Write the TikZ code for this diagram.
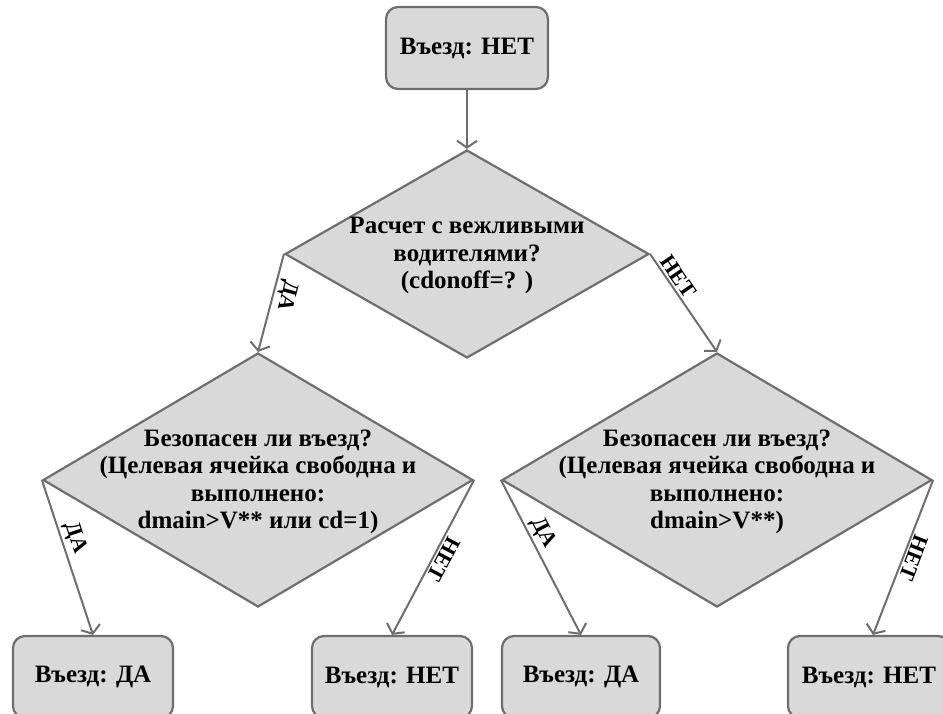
\documentclass[tikz,border=0pt]{standalone}
\usepackage{fontspec}
\setmainfont{Liberation Serif}
\usetikzlibrary{shapes.geometric,arrows.meta}
\definecolor{boxfill}{HTML}{D9D9D9}
\definecolor{linegray}{HTML}{6E6E6E}
\newcommand\dtxt[1]{\smash{\makebox[0pt]{\raisebox{-8pt}{\begin{tabular}{@{}c@{}}#1\end{tabular}}}}}
\begin{document}
\begin{tikzpicture}[x=1pt,y=-1pt,
  every node/.style={font=\fontsize{25}{27.5}\selectfont\bfseries},
  endbox/.style={draw=linegray, fill=boxfill, line width=2.2pt, rounded corners=12pt,
    minimum width=160pt, minimum height=82pt, inner sep=0pt},
  decision/.style={draw=linegray, fill=boxfill, line width=2.2pt, diamond, inner sep=0pt},
  conn/.style={draw=linegray, line width=2pt, -{Straight Barb[length=7pt,width=20pt]}},
  elabel/.style={sloped, allow upside down, above, inner sep=2.5pt,
    font=\fontsize{22}{24}\selectfont\bfseries}]
\useasboundingbox (0,0) rectangle (943,714);
\clip (0,0) rectangle (943,714);

\node[endbox, minimum width=162pt] (top) at (467,48) {Въезд: НЕТ};

\node[decision, minimum width=364pt, minimum height=208pt] (d1) at (467,254)
  {\dtxt{Расчет с вежливыми\\водителями?\\(cdonoff=? )}};

\node[decision, minimum width=430pt, minimum height=254pt] (d2l) at (258,480)
  {\dtxt{Безопасен ли въезд?\\(Целевая ячейка свободна и\\выполнено:\\dmain>V** или cd=1)}};

\node[decision, minimum width=430pt, minimum height=254pt] (d2r) at (717,480)
  {\dtxt{Безопасен ли въезд?\\(Целевая ячейка свободна и\\выполнено:\\dmain>V**)}};

\node[endbox] (b1) at (93,677) {Въезд: ДА};
\node[endbox] (b2) at (392,677) {Въезд: НЕТ};
\node[endbox, minimum width=158pt] (b3) at (581,677) {Въезд: ДА};
\node[endbox, minimum width=162pt] (b4) at (869,677) {Въезд: НЕТ};

\draw[conn] (top.south) -- (d1.north);
\draw[conn] (d1.west) -- node[elabel, pos=0.39] {ДА} (d2l.north);
\draw[conn] (d1.east) -- node[elabel, pos=0.29] {НЕТ} (d2r.north);
\draw[conn] (d2l.west) -- node[elabel, pos=0.40] {ДА} (b1.north);
\draw[conn] (d2l.east) -- node[elabel, pos=0.48] {НЕТ} (b2.north);
\draw[conn] (d2r.west) -- node[elabel, pos=0.38] {ДА} (b3.north);
\draw[conn] (d2r.east) -- node[elabel, pos=0.48] {НЕТ} ([xshift=4pt]b4.north);
\end{tikzpicture}
\end{document}
